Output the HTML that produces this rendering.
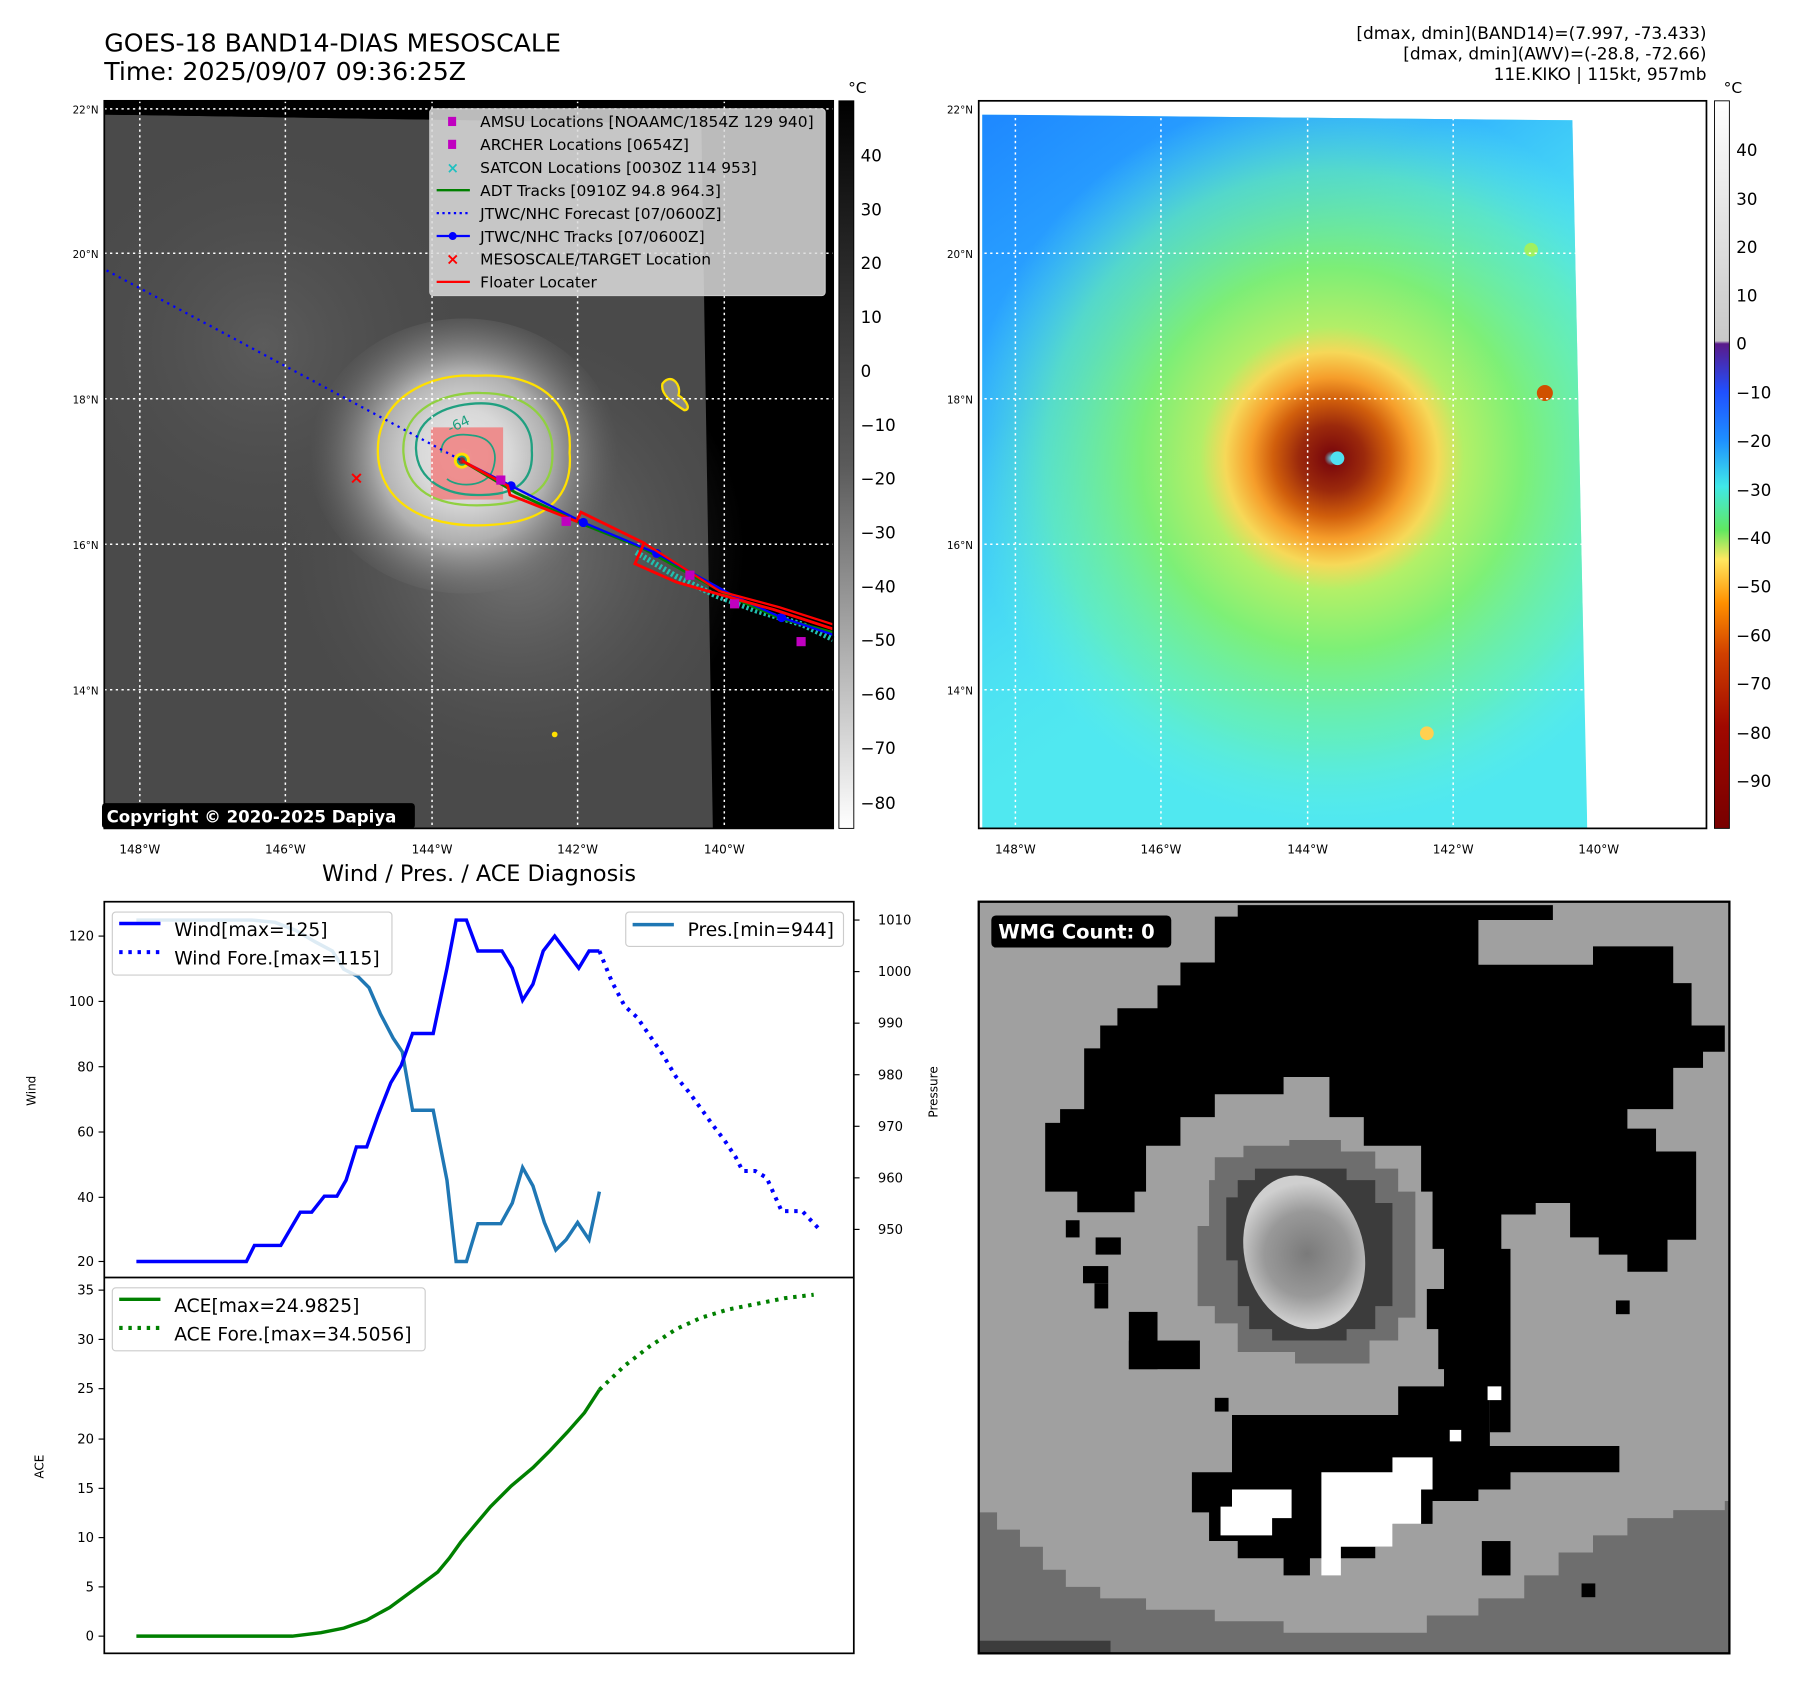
<!DOCTYPE html>
<html><head><meta charset="utf-8"><style>
html,body{margin:0;padding:0;background:#fff}
svg{display:block}
text{font-family:"DejaVu Sans","Liberation Sans",sans-serif}
</style></head><body>
<svg width="1797" height="1690" viewBox="0 0 1568 1475" preserveAspectRatio="none" xmlns="http://www.w3.org/2000/svg">
<defs>
<clipPath id="rc"><polygon points="857,100 1372,105 1385,723 857,723"/></clipPath>
<clipPath id="lc"><rect x="91" y="88" width="636" height="635"/></clipPath>
<radialGradient id="swirl" cx="405" cy="398" r="135" gradientUnits="userSpaceOnUse">
<stop offset="0" stop-color="#e8e8e8"/><stop offset="0.3" stop-color="#d8d8d8"/><stop offset="0.55" stop-color="#b0b0b0"/><stop offset="0.8" stop-color="#7a7a7a" stop-opacity="0.6"/><stop offset="1" stop-color="#606060" stop-opacity="0"/>
</radialGradient>
<radialGradient id="swirl2" cx="450" cy="480" r="200" gradientUnits="userSpaceOnUse">
<stop offset="0" stop-color="#8a8a8a" stop-opacity="0.7"/><stop offset="1" stop-color="#555" stop-opacity="0"/>
</radialGradient>
<radialGradient id="cl1" cx="230" cy="300" r="200" gradientUnits="userSpaceOnUse">
<stop offset="0" stop-color="#606060" stop-opacity="0.8"/><stop offset="1" stop-color="#4a4a4a" stop-opacity="0"/>
</radialGradient>
<linearGradient id="gbar" x1="0" y1="0" x2="0" y2="1">
<stop offset="0" stop-color="#000"/><stop offset="0.5" stop-color="#5a5a5a"/><stop offset="1" stop-color="#fff"/>
</linearGradient>
<linearGradient id="cbar" x1="0" y1="88" x2="0" y2="723" gradientUnits="userSpaceOnUse">
<stop offset="0" stop-color="#ffffff"/><stop offset="0.33" stop-color="#c8c8c8"/>
<stop offset="0.334" stop-color="#5a1a8a"/><stop offset="0.4" stop-color="#2050ff"/>
<stop offset="0.467" stop-color="#1e90ff"/><stop offset="0.53" stop-color="#40e8e8"/>
<stop offset="0.59" stop-color="#60e860"/><stop offset="0.63" stop-color="#ffe860"/>
<stop offset="0.69" stop-color="#ff9000"/><stop offset="0.76" stop-color="#d04000"/>
<stop offset="0.86" stop-color="#a00800"/><stop offset="1" stop-color="#780000"/>
</linearGradient>
<linearGradient id="blueg" x1="857" y1="100" x2="1150" y2="520" gradientUnits="userSpaceOnUse">
<stop offset="0" stop-color="#1e88ff"/><stop offset="0.45" stop-color="#30b0ff"/><stop offset="1" stop-color="#50e8f0" stop-opacity="0"/>
</linearGradient>
<radialGradient id="hot" cx="1162" cy="400" r="320" gradientUnits="userSpaceOnUse">
<stop offset="0" stop-color="#60e0ff"/><stop offset="0.02" stop-color="#800000"/><stop offset="0.09" stop-color="#a02000"/>
<stop offset="0.16" stop-color="#d85800"/><stop offset="0.22" stop-color="#ff9a20"/><stop offset="0.29" stop-color="#ffd850"/>
<stop offset="0.36" stop-color="#b8f060"/><stop offset="0.52" stop-color="#80f070"/><stop offset="0.78" stop-color="#68f0b0" stop-opacity="0.7"/><stop offset="1" stop-color="#60f0e0" stop-opacity="0"/>
</radialGradient>
<radialGradient id="eyeg" cx="1140" cy="1095" r="62" gradientUnits="userSpaceOnUse">
<stop offset="0" stop-color="#7a7a7a"/><stop offset="0.6" stop-color="#999"/><stop offset="1" stop-color="#cfcfcf"/>
</radialGradient>
</defs>

<text x="91" y="45" font-size="22">GOES-18 BAND14-DIAS MESOSCALE</text>
<text x="91" y="70" font-size="22">Time: 2025/09/07 09:36:25Z</text>
<text x="1489" y="34" font-size="14.8" text-anchor="end">[dmax, dmin](BAND14)=(7.997, -73.433)</text>
<text x="1489" y="52" font-size="14.8" text-anchor="end">[dmax, dmin](AWV)=(-28.8, -72.66)</text>
<text x="1489" y="70" font-size="14.8" text-anchor="end">11E.KIKO | 115kt, 957mb</text>

<!-- LEFT MAP -->
<rect x="91" y="88" width="636" height="635" fill="#000"/>
<g clip-path="url(#lc)">
<polygon points="91,100 612,108 615,300 622,723 91,723" fill="#4a4a4a"/>
<ellipse cx="230" cy="300" rx="200" ry="260" fill="url(#cl1)"/>
<ellipse cx="450" cy="480" rx="200" ry="200" fill="url(#swirl2)"/>
<ellipse cx="405" cy="398" rx="135" ry="120" fill="url(#swirl)"/>
</g>
<polygon points="91,100 612,108 612,98 91,96" fill="#000"/>
<rect x="376" y="373" width="63" height="63" fill="#f08080" opacity="0.85"/>
<path d="M330,400 C325,345 380,325 415,328 C470,325 500,350 497,395 C500,430 480,455 430,458 C380,462 335,445 330,400 Z" fill="none" stroke="#ffe000" stroke-width="2"/>
<path d="M352,395 C350,355 390,342 420,343 C465,343 483,370 482,395 C483,425 465,440 420,441 C380,442 354,428 352,395 Z" fill="none" stroke="#90d040" stroke-width="2"/>
<path d="M363,392 C362,362 395,352 420,352 C450,352 465,372 464,393 C466,420 450,432 420,432 C390,433 364,420 363,392 Z" fill="none" stroke="#20a080" stroke-width="2"/>
<path d="M385,395 C385,380 400,378 412,380 C430,382 435,395 430,410 C425,425 400,426 390,418" fill="none" stroke="#20a080" stroke-width="1.5"/>
<circle cx="403" cy="402" r="7" fill="#ffe000"/><circle cx="403" cy="402" r="4.5" fill="#20a080"/><circle cx="403" cy="402" r="3" fill="#8b3030"/>
<text x="393" y="378" font-size="12" fill="#20a080" transform="rotate(-25 393 378)">-64</text>
<path d="M578,335 C585,325 595,335 592,345 C600,350 603,358 597,358 C588,352 576,345 578,335 Z" fill="#888" stroke="#ffe000" stroke-width="2"/>
<circle cx="484" cy="641" r="2.5" fill="#ffe000"/>
<g stroke="#fff" stroke-width="1.3" stroke-dasharray="2,3">
<line x1="122" y1="88" x2="122" y2="723"/><line x1="249" y1="88" x2="249" y2="723"/><line x1="377" y1="88" x2="377" y2="723"/><line x1="504" y1="88" x2="504" y2="723"/><line x1="632" y1="88" x2="632" y2="723"/>
<line x1="91" y1="95" x2="727" y2="95"/><line x1="91" y1="221" x2="727" y2="221"/><line x1="91" y1="348" x2="727" y2="348"/><line x1="91" y1="475" x2="727" y2="475"/><line x1="91" y1="602" x2="727" y2="602"/>
</g>
<polyline points="93,236 403,402" fill="none" stroke="#0000ff" stroke-width="2" stroke-dasharray="2,4"/>
<polyline points="555,482 590,503 625,520 660,533 700,545 727,558" fill="none" stroke="#20c0b0" stroke-width="5" stroke-dasharray="2,2"/>
<polyline points="403,402 450,430 510,458 560,478 600,500 640,522 682,540 727,552" fill="none" stroke="#008000" stroke-width="2.5"/>
<polyline points="403,402 446,424 509,456 573,483 640,520 682,539 727,554" fill="none" stroke="#0000ff" stroke-width="2"/>
<g fill="#0000ff"><circle cx="446" cy="424" r="4"/><circle cx="509" cy="456" r="4"/><circle cx="573" cy="483" r="4"/><circle cx="682" cy="539" r="4"/></g>
<polyline points="403,402 443,424 445,432 503,455 507,447 562,474 554,492 590,508 625,518 675,532 727,549" fill="none" stroke="#ff0000" stroke-width="2.5"/>
<polyline points="562,474 600,498 628,516 680,530 727,545" fill="none" stroke="#ff0000" stroke-width="2"/>
<g fill="#c000c0"><rect x="433" y="415" width="8" height="8"/><rect x="490" y="451" width="8" height="8"/><rect x="598" y="498" width="8" height="8"/><rect x="637" y="523" width="8" height="8"/><rect x="695" y="556" width="8" height="8"/></g>
<text x="311" y="422" font-size="15" fill="#ff0000" text-anchor="middle" font-weight="bold">×</text>
<rect x="375" y="95" width="345" height="163" rx="3" fill="#dcdcdc" fill-opacity="0.85" stroke="#ccc"/>
<g font-size="13.5">
<rect x="391" y="102" width="7" height="8" fill="#c000c0"/><text x="419" y="111">AMSU Locations [NOAAMC/1854Z 129 940]</text>
<rect x="391" y="122" width="7" height="8" fill="#c000c0"/><text x="419" y="131">ARCHER Locations [0654Z]</text>
<text x="395" y="151" font-size="13" fill="#20c0c0" text-anchor="middle" font-weight="bold">×</text><text x="419" y="151">SATCON Locations [0030Z 114 953]</text>
<line x1="381" y1="166" x2="410" y2="166" stroke="#008000" stroke-width="2"/><text x="419" y="171">ADT Tracks [0910Z 94.8 964.3]</text>
<line x1="381" y1="186" x2="410" y2="186" stroke="#0000ff" stroke-width="2" stroke-dasharray="2,3"/><text x="419" y="191">JTWC/NHC Forecast [07/0600Z]</text>
<line x1="381" y1="206" x2="410" y2="206" stroke="#0000ff" stroke-width="2"/><circle cx="395" cy="206" r="3.5" fill="#0000ff"/><text x="419" y="211">JTWC/NHC Tracks [07/0600Z]</text>
<text x="395" y="231" font-size="14" fill="#ff0000" text-anchor="middle" font-weight="bold">×</text><text x="419" y="231">MESOSCALE/TARGET Location</text>
<line x1="381" y1="246" x2="410" y2="246" stroke="#ff0000" stroke-width="2"/><text x="419" y="251">Floater Locater</text>
</g>
<rect x="89" y="701" width="273" height="22" rx="3" fill="#000"/>
<text x="93" y="718" font-size="14.5" fill="#fff" font-weight="bold">Copyright © 2020-2025 Dapiya</text>
<rect x="91" y="88" width="636" height="635" fill="none" stroke="#000" stroke-width="1.5"/>
<g font-size="9" text-anchor="end">
<text x="86" y="99">22°N</text><text x="86" y="225">20°N</text><text x="86" y="352">18°N</text><text x="86" y="479">16°N</text><text x="86" y="606">14°N</text>
</g>
<g font-size="10.5" text-anchor="middle">
<text x="122" y="745">148°W</text><text x="249" y="745">146°W</text><text x="377" y="745">144°W</text><text x="504" y="745">142°W</text><text x="632" y="745">140°W</text>
</g>
<rect x="732" y="88" width="13" height="635" fill="url(#gbar)" stroke="#000" stroke-width="0.8"/>
<text x="740" y="81" font-size="13.5">°C</text>
<g font-size="14.5">
<text x="751" y="141">40</text><text x="751" y="188">30</text><text x="751" y="235">20</text><text x="751" y="282">10</text><text x="751" y="329">0</text>
<text x="751" y="376">−10</text><text x="751" y="423">−20</text><text x="751" y="470">−30</text><text x="751" y="517">−40</text><text x="751" y="564">−50</text><text x="751" y="611">−60</text><text x="751" y="658">−70</text><text x="751" y="706">−80</text>
</g>

<!-- RIGHT MAP -->
<rect x="854" y="88" width="635" height="635" fill="#fff"/>
<g clip-path="url(#rc)">
<rect x="854" y="88" width="540" height="640" fill="#50e8f0"/>
<rect x="854" y="88" width="540" height="640" fill="url(#blueg)"/>
<ellipse cx="1162" cy="400" rx="320" ry="320" fill="url(#hot)" opacity="0.95"/>
<circle cx="1167" cy="400" r="6" fill="#50e0f0"/>
<circle cx="1348" cy="343" r="7" fill="#d05000"/>
<circle cx="1336" cy="218" r="6" fill="#a0f060"/>
<circle cx="1245" cy="640" r="6" fill="#ffd050"/>
</g>
<g stroke="#fff" stroke-width="1.3" stroke-dasharray="2,3">
<line x1="886" y1="88" x2="886" y2="723"/><line x1="1013" y1="88" x2="1013" y2="723"/><line x1="1141" y1="88" x2="1141" y2="723"/><line x1="1268" y1="88" x2="1268" y2="723"/><line x1="1395" y1="88" x2="1395" y2="723"/>
<line x1="854" y1="95" x2="1489" y2="95"/><line x1="854" y1="221" x2="1489" y2="221"/><line x1="854" y1="348" x2="1489" y2="348"/><line x1="854" y1="475" x2="1489" y2="475"/><line x1="854" y1="602" x2="1489" y2="602"/>
</g>
<rect x="854" y="88" width="635" height="635" fill="none" stroke="#000" stroke-width="1.5"/>
<g font-size="9" text-anchor="end">
<text x="849" y="99">22°N</text><text x="849" y="225">20°N</text><text x="849" y="352">18°N</text><text x="849" y="479">16°N</text><text x="849" y="606">14°N</text>
</g>
<g font-size="10.5" text-anchor="middle">
<text x="886" y="745">148°W</text><text x="1013" y="745">146°W</text><text x="1141" y="745">144°W</text><text x="1268" y="745">142°W</text><text x="1395" y="745">140°W</text>
</g>
<rect x="1496" y="88" width="13" height="635" fill="url(#cbar)" stroke="#000" stroke-width="0.8"/>
<text x="1504" y="81" font-size="13.5">°C</text>
<g font-size="14.5">
<text x="1515" y="136">40</text><text x="1515" y="179">30</text><text x="1515" y="221">20</text><text x="1515" y="263">10</text><text x="1515" y="305">0</text>
<text x="1515" y="348">−10</text><text x="1515" y="390">−20</text><text x="1515" y="433">−30</text><text x="1515" y="475">−40</text><text x="1515" y="517">−50</text><text x="1515" y="560">−60</text><text x="1515" y="602">−70</text><text x="1515" y="645">−80</text><text x="1515" y="687">−90</text>
</g>

<!-- DIAGNOSIS -->
<text x="418" y="769" font-size="19.5" text-anchor="middle">Wind / Pres. / ACE Diagnosis</text>
<rect x="91" y="787" width="654" height="656" fill="#fff" stroke="#000" stroke-width="1.5"/>
<line x1="91" y1="1115" x2="745" y2="1115" stroke="#000" stroke-width="1.5"/>
<g font-size="11.5" text-anchor="end">
<text x="82" y="821">120</text><text x="82" y="878">100</text><text x="82" y="935">80</text><text x="82" y="992">60</text><text x="82" y="1049">40</text><text x="82" y="1105">20</text>
<text x="82" y="1130">35</text><text x="82" y="1173">30</text><text x="82" y="1216">25</text><text x="82" y="1260">20</text><text x="82" y="1303">15</text><text x="82" y="1346">10</text><text x="82" y="1389">5</text><text x="82" y="1432">0</text>
</g>
<g stroke="#000"><line x1="86" y1="817" x2="91" y2="817"/><line x1="86" y1="874" x2="91" y2="874"/><line x1="86" y1="931" x2="91" y2="931"/><line x1="86" y1="988" x2="91" y2="988"/><line x1="86" y1="1045" x2="91" y2="1045"/><line x1="86" y1="1101" x2="91" y2="1101"/>
<line x1="86" y1="1126" x2="91" y2="1126"/><line x1="86" y1="1169" x2="91" y2="1169"/><line x1="86" y1="1212" x2="91" y2="1212"/><line x1="86" y1="1256" x2="91" y2="1256"/><line x1="86" y1="1299" x2="91" y2="1299"/><line x1="86" y1="1342" x2="91" y2="1342"/><line x1="86" y1="1385" x2="91" y2="1385"/><line x1="86" y1="1428" x2="91" y2="1428"/>
<line x1="745" y1="803" x2="750" y2="803"/><line x1="745" y1="848" x2="750" y2="848"/><line x1="745" y1="893" x2="750" y2="893"/><line x1="745" y1="938" x2="750" y2="938"/><line x1="745" y1="983" x2="750" y2="983"/><line x1="745" y1="1028" x2="750" y2="1028"/><line x1="745" y1="1073" x2="750" y2="1073"/></g>
<g font-size="11.5"><text x="766" y="807">1010</text><text x="766" y="852">1000</text><text x="766" y="897">990</text><text x="766" y="942">980</text><text x="766" y="987">970</text><text x="766" y="1032">960</text><text x="766" y="1077">950</text></g>
<text x="31" y="952" font-size="10.5" transform="rotate(-90 31 952)" text-anchor="middle">Wind</text>
<text x="818" y="953" font-size="10.5" transform="rotate(-90 818 953)" text-anchor="middle">Pressure</text>
<text x="38" y="1280" font-size="10.5" transform="rotate(-90 38 1280)" text-anchor="middle">ACE</text>
<polyline fill="none" stroke="#1f77b4" stroke-width="3" points="119,803 220,803 240,805 258,812 275,822 290,830 300,846 312,852 322,862 332,885 343,906 351,918 360,969 378,969 390,1030 398,1101 407,1101 417,1068 437,1068 447,1050 456,1019 465,1035 475,1067 485,1091 494,1082 504,1067 514,1082 523,1040"/>
<polyline fill="none" stroke="#0000ff" stroke-width="3" points="119,1101 215,1101 222,1087 245,1087 262,1058 272,1058 283,1044 294,1044 302,1030 311,1001 320,1001 330,973 341,945 350,930 360,902 378,902 390,845 398,803 407,803 417,830 438,830 447,845 456,873 465,859 474,830 484,817 505,845 514,830 523,830"/>
<polyline fill="none" stroke="#0000ff" stroke-width="3.5" stroke-dasharray="3,5" points="523,830 534,857 545,878 556,888 567,904 578,920 590,940 601,953 612,968 622,982 632,995 642,1010 648,1022 659,1022 669,1028 682,1057 700,1057 715,1073"/>
<polyline fill="none" stroke="#008000" stroke-width="3" points="119,1428 255,1428 280,1425 300,1421 320,1414 340,1403 355,1392 370,1381 382,1372 392,1360 402,1346 412,1334 428,1315 446,1297 465,1281 480,1266 495,1250 510,1233 523,1213"/>
<polyline fill="none" stroke="#008000" stroke-width="3.5" stroke-dasharray="3,5" points="523,1213 545,1192 567,1175 590,1160 612,1150 635,1143 660,1138 685,1133 710,1130"/>
<rect x="98" y="796" width="244" height="55" rx="3" fill="#fff" fill-opacity="0.85" stroke="#ccc"/>
<line x1="104" y1="806" x2="140" y2="806" stroke="#0000ff" stroke-width="3"/><text x="152" y="817" font-size="16.3">Wind[max=125]</text>
<line x1="104" y1="831" x2="140" y2="831" stroke="#0000ff" stroke-width="3.5" stroke-dasharray="3,5"/><text x="152" y="842" font-size="16.3">Wind Fore.[max=115]</text>
<rect x="546" y="796" width="190" height="30" rx="3" fill="#fff" fill-opacity="0.85" stroke="#ccc"/>
<line x1="552" y1="807" x2="588" y2="807" stroke="#1f77b4" stroke-width="3"/><text x="600" y="817" font-size="16.3">Pres.[min=944]</text>
<rect x="98" y="1124" width="273" height="55" rx="3" fill="#fff" fill-opacity="0.85" stroke="#ccc"/>
<line x1="104" y1="1134" x2="140" y2="1134" stroke="#008000" stroke-width="3"/><text x="152" y="1145" font-size="16.3">ACE[max=24.9825]</text>
<line x1="104" y1="1159" x2="140" y2="1159" stroke="#008000" stroke-width="3.5" stroke-dasharray="3,5"/><text x="152" y="1170" font-size="16.3">ACE Fore.[max=34.5056]</text>

<!-- WMG -->
<rect x="854" y="787" width="655" height="656" fill="#a0a0a0"/>
<polygon fill="#6e6e6e" points="854,1320 870,1320 870,1335 890,1335 890,1350 910,1350 910,1370 930,1370 930,1385 960,1385 960,1395 1000,1395 1000,1405 1060,1405 1060,1415 1120,1415 1120,1425 1245,1425 1245,1410 1290,1410 1290,1395 1330,1395 1330,1375 1360,1375 1360,1355 1390,1355 1390,1340 1420,1340 1420,1325 1460,1325 1460,1318 1505,1318 1505,1310 1509,1310 1509,1443 854,1443"/>
<rect x="854" y="1432" width="115" height="11" fill="#3c3c3c"/>
<polygon fill="#000" points="1080,790 1355,790 1355,803 1290,803 1290,842 1390,842 1390,826 1460,826 1460,858 1476,858 1476,895 1505,895 1505,918 1486,918 1486,932 1460,932 1460,968 1420,968 1420,985 1445,985 1445,1005 1480,1005 1480,1082 1455,1082 1455,1110 1420,1110 1420,1095 1395,1095 1395,1080 1370,1080 1370,1050 1340,1050 1340,1060 1310,1060 1310,1090 1318,1090 1318,1250 1300,1250 1300,1220 1270,1220 1270,1195 1255,1195 1255,1150 1260,1150 1260,1090 1250,1090 1250,1040 1240,1040 1240,1000 1190,1000 1190,975 1160,975 1160,940 1120,940 1120,955 1060,955 1060,975 1030,975 1030,1000 1000,1000 1000,1040 990,1040 990,1058 940,1058 940,1040 912,1040 912,980 925,980 925,968 946,968 946,915 960,915 960,895 975,895 975,880 1010,880 1010,860 1030,860 1030,840 1060,840 1060,800 1080,800"/>
<polygon fill="#000" points="1075,1235 1220,1235 1220,1210 1260,1210 1260,1180 1300,1180 1300,1262 1413,1262 1413,1285 1318,1285 1318,1300 1290,1300 1290,1310 1250,1310 1250,1330 1215,1330 1215,1350 1200,1350 1200,1360 1143,1360 1143,1375 1120,1375 1120,1360 1080,1360 1080,1345 1055,1345 1055,1320 1040,1320 1040,1285 1075,1285"/>
<polygon fill="#fff" points="1075,1300 1127,1300 1127,1325 1110,1325 1110,1340 1065,1340 1065,1315 1075,1315"/>
<polygon fill="#fff" points="1153,1285 1215,1285 1215,1272 1250,1272 1250,1300 1240,1300 1240,1330 1215,1330 1215,1350 1170,1350 1170,1375 1153,1375"/>
<g fill="#000"><rect x="945" y="1105" width="22" height="15"/><rect x="955" y="1120" width="12" height="22"/><rect x="930" y="1065" width="12" height="15"/><rect x="956" y="1080" width="22" height="15"/><rect x="985" y="1145" width="25" height="50"/><rect x="985" y="1170" width="62" height="25"/><rect x="1293" y="1345" width="25" height="30"/><rect x="1380" y="1382" width="12" height="12"/><rect x="1410" y="1135" width="12" height="12"/><rect x="1245" y="1125" width="25" height="35"/><rect x="1060" y="1220" width="12" height="12"/></g>
<g fill="#fff"><rect x="1298" y="1210" width="12" height="12"/><rect x="1265" y="1248" width="10" height="10"/></g>
<polygon fill="#6e6e6e" points="1060,1010 1085,1010 1085,1000 1125,1000 1125,995 1170,995 1170,1005 1200,1005 1200,1020 1220,1020 1220,1040 1235,1040 1235,1150 1220,1150 1220,1170 1195,1170 1195,1190 1130,1190 1130,1180 1080,1180 1080,1155 1060,1155 1060,1140 1045,1140 1045,1070 1055,1070 1055,1030 1060,1030"/>
<polygon fill="#3c3c3c" points="1080,1030 1095,1030 1095,1020 1175,1020 1175,1030 1200,1030 1200,1050 1215,1050 1215,1140 1200,1140 1200,1160 1175,1160 1175,1170 1110,1170 1110,1160 1090,1160 1090,1140 1080,1140 1080,1100 1070,1100 1070,1045 1080,1045"/>
<ellipse cx="1138" cy="1093" rx="52" ry="68" fill="url(#eyeg)" transform="rotate(-15 1138 1093)"/>
<rect x="865" y="799" width="157" height="28" rx="4" fill="#000"/>
<text x="871" y="819" font-size="17" fill="#fff" font-weight="bold">WMG Count: 0</text>
<rect x="854" y="787" width="655" height="656" fill="none" stroke="#000" stroke-width="2"/>
</svg>
</body></html>
